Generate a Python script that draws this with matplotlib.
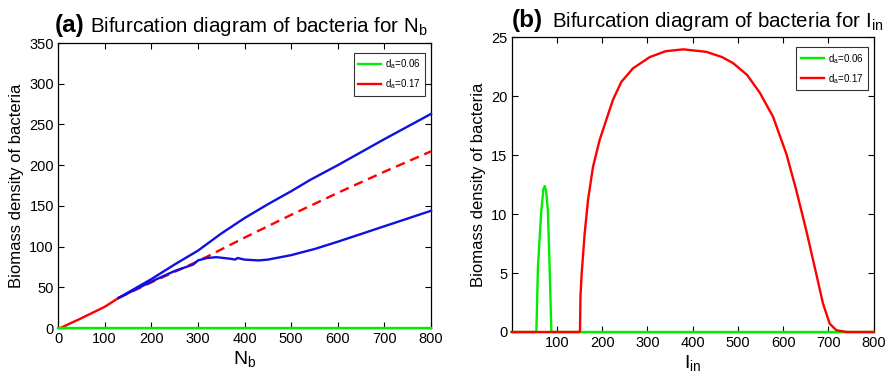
import numpy as np
import matplotlib
matplotlib.use("Agg")
import matplotlib.pyplot as plt

plt.rcParams['font.family'] = ['Liberation Sans', 'DejaVu Sans']
plt.rcParams['mathtext.default'] = 'regular'

# panel (a): bifurcation for N_b
nb_red_solid = [5, 50, 100, 130]
red_solid = [0, 12, 26, 37]
nb_red_dash = [130, 200, 300, 400, 500, 600, 700, 800]
red_dash = [37, 56, 82, 111, 139, 166, 192, 217]
nb_up = [130, 200, 250, 300, 350, 400, 450, 500, 541, 600, 700, 800]
blue_up = [37, 60, 78, 95, 116, 135, 152, 168, 182, 200, 232, 263]
nb_low = [130, 200, 250, 290, 300, 320, 340, 370, 380, 385, 400, 430, 450, 500, 550, 600, 700, 800]
blue_low = [37, 57, 70, 78, 83, 86, 87, 85, 84, 86, 84, 83, 84, 89.5, 97, 106, 125, 144]
nb_green = [0, 800]
green_a = [0, 0]

# panel (b): bifurcation for I_in
iin_green = [0, 54.5, 58, 65.5, 70, 73, 76, 80, 84, 87.7, 800]
green_b = [0, 0, 5.5, 10.3, 12.1, 12.37, 12.0, 10.3, 5.25, 0, 0]
iin_red = [0, 150, 151, 152, 154.7, 161.3, 168.7, 179.7, 194.5, 209.2, 224, 242.3, 268,
           305, 340, 379, 430, 465, 489, 520, 548, 577.5, 607, 629, 651, 669.6, 688, 702.8,
           717.5, 740, 800]
red_b = [0, 0, 0.2, 3, 4.97, 8.36, 11.2, 14.0, 16.3, 18.0, 19.7, 21.2, 22.35,
         23.3, 23.8, 23.96, 23.75, 23.3, 22.8, 21.8, 20.3, 18.25, 15.1, 12.0, 8.6, 5.5, 2.4, 0.7,
         0.15, 0, 0]

fig = plt.figure(figsize=(8.93, 3.83), dpi=100)
ax1 = fig.add_axes([0.065, 0.1436, 0.4177, 0.744])
ax2 = fig.add_axes([0.573, 0.1332, 0.4054, 0.770])

blue = '#1010e0'
green = '#00ee00'
kw = dict(lw=1.7, clip_on=False, solid_joinstyle='round', zorder=3)
ax1.plot(nb_red_solid, red_solid, color='red', **kw)
ax1.plot(nb_red_dash, red_dash, color='red', dashes=(4, 2.5), **kw)
ax1.plot(nb_up, blue_up, color=blue, **kw)
ax1.plot(nb_low, blue_low, color=blue, **kw)
ax1.plot(nb_green, green_a, color=green, label='d$_a$=0.06', **kw)
ax1.plot([], [], color='red', lw=1.7, label='d$_a$=0.17')
ax1.set_xlim(0, 800)
ax1.set_ylim(0, 350)
ax1.set_xticks(np.arange(0, 801, 100))
ax1.set_yticks(np.arange(0, 351, 50))
ax1.set_xlabel('N$_b$', fontsize=14, labelpad=2)
ax1.set_ylabel('Biomass density of bacteria', fontsize=12, labelpad=4)
ax1.text(-0.008, 1.04, '(a)', transform=ax1.transAxes, fontsize=17.5,
         fontweight='bold', va='baseline', ha='left')
ax1.text(0.086, 1.04, 'Bifurcation diagram of bacteria for N$_b$', transform=ax1.transAxes,
         fontsize=14.8, va='baseline', ha='left')

ax2.plot(iin_green, green_b, color=green, label='d$_a$=0.06', **kw)
ax2.plot(iin_red, red_b, color='red', label='d$_a$=0.17', **kw)
ax2.set_xlim(0, 800)
ax2.set_ylim(0, 25)
ax2.set_xticks(np.arange(100, 801, 100))
ax2.set_yticks(np.arange(0, 26, 5))
ax2.set_xlabel('I$_{in}$', fontsize=14, labelpad=2)
ax2.set_ylabel('Biomass density of bacteria', fontsize=12, labelpad=4)
ax2.text(0.0, 1.035, '(b)', transform=ax2.transAxes, fontsize=17.5,
         fontweight='bold', va='baseline', ha='left')
ax2.text(0.11, 1.035, 'Bifurcation diagram of bacteria for I$_{in}$', transform=ax2.transAxes,
         fontsize=14.8, va='baseline', ha='left')

for ax in (ax1, ax2):
    ax.tick_params(direction='in', top=True, right=True, labelsize=10.5, length=4, width=0.8, pad=3)
    for s in ax.spines.values():
        s.set_linewidth(0.9)
    leg = ax.legend(loc='upper right', fontsize=7, handlelength=2.4, handletextpad=0.4,
                    frameon=True, fancybox=False, edgecolor='black', borderpad=0.45,
                    labelspacing=0.65, borderaxespad=0, bbox_to_anchor=(0.985, 0.965))
    leg.get_frame().set_linewidth(0.8)
    leg.set_zorder(5)

fig.savefig('out.png', dpi=100)
